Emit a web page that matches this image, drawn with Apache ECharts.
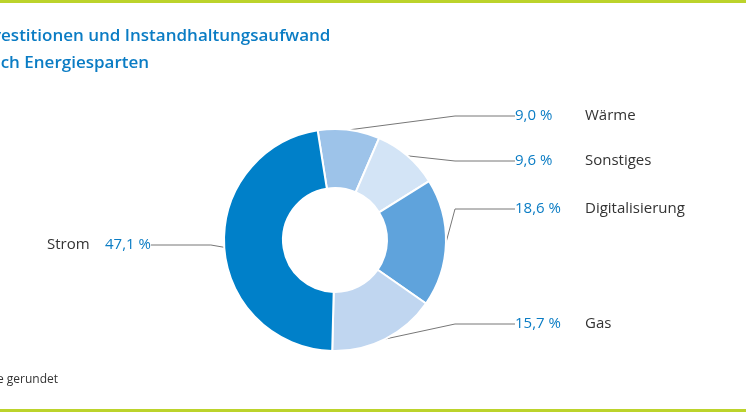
<!DOCTYPE html>
<html><head><meta charset="utf-8">
<script src="https://cdn.jsdelivr.net/npm/echarts@6/dist/echarts.min.js"></script>
<style>html,body{margin:0;padding:0;background:#fff}#c{width:746px;height:419px}</style>
</head><body><div id="c"></div>
<script>
const categories = ['Wärme','Sonstiges','Digitalisierung','Gas','Strom'];
const values = [9.0, 9.6, 18.6, 15.7, 47.1];
const valueLabels = ['9,0 %','9,6 %','18,6 %','15,7 %','47,1 %'];
const colors = ['#9dc3e9','#d3e4f6','#5fa3dc','#c0d6f0','#0080c9'];
const labelY = [116, 161, 209, 324, 245];

const chart = echarts.init(document.getElementById('c'));
const font = '"Open Sans", sans-serif';
chart.setOption({
  animation:false,
  graphic:[
    {type:'rect',shape:{x:0,y:0,width:746,height:3},style:{fill:'#bcd32b'}},
    {type:'rect',shape:{x:0,y:409,width:746,height:3},style:{fill:'#bcd32b'}},
    {type:'text',left:-24,top:28,style:{text:'Investitionen und Instandhaltungsaufwand',fill:'#0a7cc4',font:'600 17px '+font}},
    {type:'text',left:-20,top:55,style:{text:'nach Energiesparten',fill:'#0a7cc4',font:'600 17px '+font}},
    {type:'text',left:-30,top:374,style:{text:'Werte gerundet',fill:'#333',font:'12px '+font}}
  ],
  series:[{
    type:'pie',
    center:[335,240],
    radius:[52,111],
    startAngle:99,
    clockwise:true,
    itemStyle:{borderColor:'#fff',borderWidth:2},
    data: categories.map((c,i)=>({name:c,value:values[i],itemStyle:{color:colors[i]}})),
    label:{
      formatter:p=> p.dataIndex===4 ? '{n|'+p.name+'}{p|'+valueLabels[4]+'}' : '{p|'+valueLabels[p.dataIndex]+'}{n|'+p.name+'}',
      rich:{
        p:{color:'#0a7cc4',fontSize:15,fontFamily:font,width:70},
        n:{color:'#333',fontSize:15,fontFamily:font,width:58}
      }
    },
    labelLine:{show:true,lineStyle:{color:'#777',width:1},length:8,length2:60},
    labelLayout:p=>{
      const i=p.dataIndex;
      if(i===4) return {x:47,y:labelY[i],align:'left',verticalAlign:'middle'};
      return {x:515,y:labelY[i],align:'left',verticalAlign:'middle'};
    }
  }]
});
</script></body></html>
